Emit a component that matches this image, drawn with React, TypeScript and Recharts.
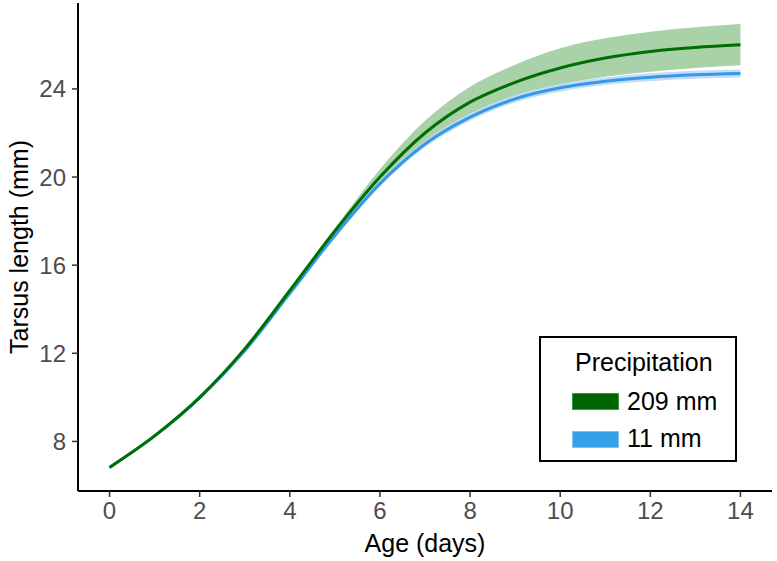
import React from "react";
import {
  ComposedChart,
  Area,
  Line,
  XAxis,
  YAxis,
} from "recharts";

// Age in days
const ages = [0, 1, 2, 3, 4, 5, 6, 7, 8, 9, 10, 11, 12, 13, 14];

// 209 mm precipitation: fitted tarsus length and its ribbon
const green = [6.82, 8.25, 10.0, 12.2, 14.85, 17.55, 20.0, 22.0, 23.4, 24.3, 24.95, 25.4, 25.7, 25.88, 26.0];
const greenLo = [6.8, 8.23, 9.97, 12.15, 14.78, 17.42, 19.75, 21.5, 22.78, 23.65, 24.2, 24.55, 24.78, 24.95, 25.07];
const greenHi = [6.84, 8.27, 10.03, 12.25, 14.92, 17.68, 20.35, 22.55, 24.1, 25.1, 25.85, 26.3, 26.6, 26.8, 26.95];

// 11 mm precipitation
const blue = [6.82, 8.25, 9.98, 12.12, 14.72, 17.35, 19.7, 21.5, 22.72, 23.55, 24.05, 24.35, 24.53, 24.64, 24.7];
const blueLo = [6.8, 8.22, 9.94, 12.07, 14.65, 17.25, 19.57, 21.36, 22.56, 23.39, 23.88, 24.18, 24.35, 24.46, 24.52];
const blueHi = [6.84, 8.28, 10.02, 12.17, 14.79, 17.45, 19.83, 21.64, 22.88, 23.71, 24.22, 24.52, 24.71, 24.82, 24.88];

const xTicks = [0, 2, 4, 6, 8, 10, 12, 14];
const yTicks = [8, 12, 16, 20, 24];

const legendItems = [
  { label: "209 mm", color: "#006400", edge: "#3f9a3f" },
  { label: "11 mm", color: "#35a0e8", edge: "#7fc0f0" },
];

const rows = ages.map((age, i) => ({
  age,
  green: green[i],
  greenBand: [greenLo[i], greenHi[i]],
  blue: blue[i],
  blueBand: [blueLo[i], blueHi[i]],
}));

const FONT = "'Liberation Sans', Arial, sans-serif";

const LegendBox = () => (
  <div
    style={{
      position: "absolute",
      left: 539,
      top: 336,
      width: 194,
      height: 122,
      border: "2px solid #000",
      background: "#fff",
      fontFamily: FONT,
      color: "#000",
    }}
  >
    <div style={{ position: "absolute", left: 34, top: 12, fontSize: 25, lineHeight: "25px", whiteSpace: "nowrap" }}>
      Precipitation
    </div>
    {legendItems.map((item, i) => (
      <React.Fragment key={item.label}>
        <div
          style={{
            position: "absolute",
            left: 31,
            top: i === 0 ? 55 : 93,
            width: 45,
            height: 15,
            background: item.color,
            border: `1px solid ${item.edge}`,
          }}
        />
        <div
          style={{
            position: "absolute",
            left: 86,
            top: i === 0 ? 51 : 88,
            fontSize: 25,
            lineHeight: "25px",
            whiteSpace: "nowrap",
          }}
        >
          {item.label}
        </div>
      </React.Fragment>
    ))}
  </div>
);

export default function App() {
  return (
    <div style={{ position: "absolute", left: 0, top: 0, width: 777, height: 561, background: "#fff" }}>
      <ComposedChart
        width={777}
        height={561}
        data={rows}
        margin={{ top: 3, right: 5, bottom: 0, left: 0 }}
      >
        <XAxis
          dataKey="age"
          type="number"
          domain={[-0.7, 14.7]}
          ticks={xTicks}
          allowDataOverflow
          height={70}
          axisLine={{ stroke: "#000", strokeWidth: 2 }}
          tickLine={{ stroke: "#333", strokeWidth: 1.5 }}
          tickSize={6}
          tick={{ fill: "#4d4d4d", fontSize: 24, fontFamily: FONT, dy: 3 }}
          label={{
            value: "Age (days)",
            position: "insideBottom",
            offset: 9,
            fill: "#000",
            fontSize: 25,
            fontFamily: FONT,
          }}
        />
        <YAxis
          type="number"
          domain={[5.75, 27.9]}
          ticks={yTicks}
          allowDataOverflow
          width={78}
          axisLine={{ stroke: "#000", strokeWidth: 2 }}
          tickLine={{ stroke: "#333", strokeWidth: 1.5 }}
          tickSize={6}
          tick={{ fill: "#4d4d4d", fontSize: 24, fontFamily: FONT, dx: -4 }}
          label={{
            value: "Tarsus length (mm)",
            angle: -90,
            position: "insideLeft",
            offset: 19,
            style: { textAnchor: "middle" },
            fill: "#000",
            fontSize: 25,
            fontFamily: FONT,
          }}
        />
        <Area
          dataKey="greenBand"
          type="monotone"
          stroke="none"
          fill="#a9d2a9"
          fillOpacity={1}
          isAnimationActive={false}
          activeDot={false}
        />
        <Area
          dataKey="blueBand"
          type="monotone"
          stroke="none"
          fill="#c4dcf9"
          fillOpacity={1}
          isAnimationActive={false}
          activeDot={false}
        />
        <Line
          dataKey="blue"
          type="monotone"
          stroke="#3399e8"
          strokeWidth={3}
          dot={false}
          isAnimationActive={false}
        />
        <Line
          dataKey="green"
          type="monotone"
          stroke="#006e00"
          strokeWidth={3}
          dot={false}
          isAnimationActive={false}
        />
      </ComposedChart>
      <LegendBox />
    </div>
  );
}
